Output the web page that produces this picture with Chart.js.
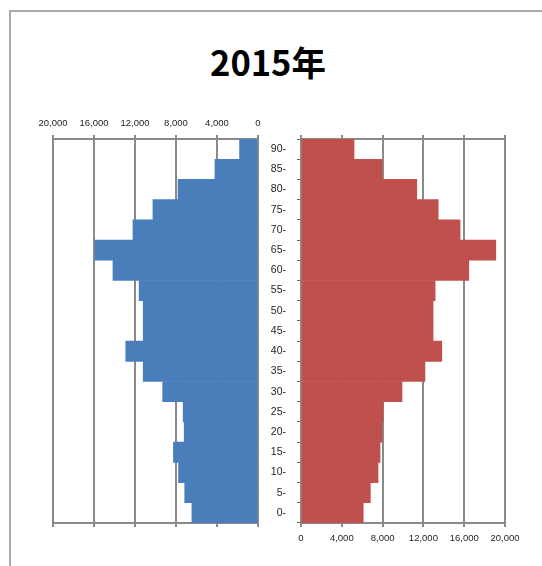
<!DOCTYPE html>
<html>
<head>
<meta charset="utf-8">
<script src="https://cdn.jsdelivr.net/npm/chart.js@4/dist/chart.umd.min.js"></script>
<style>
  html, body { margin: 0; padding: 0; background: #fff; overflow: hidden; }
  #wrap { position: relative; width: 542px; height: 566px; overflow: hidden; }
  /* outer chart frame: only its top and left edges fall inside the page */
  .edge { position: absolute; background: #a9a9a9; }
  #edgeTop { left: 9px; top: 10px; width: 533px; height: 2px; }
  #edgeLeft { left: 9px; top: 10px; width: 2px; height: 556px; }
  #title { position: absolute; left: 0; top: 39px; width: 536px; height: 44px;
           line-height: 44px; text-align: center; color: #000;
           font-family: 'Noto Sans CJK JP', sans-serif; font-weight: bold; font-size: 34.5px; }
  canvas { position: absolute; left: 0; top: 0; }
</style>
</head>
<body>
<div id="wrap">
  <div class="edge" id="edgeTop"></div>
  <div class="edge" id="edgeLeft"></div>
  <div id="title">2015年</div>
  <canvas id="male" width="542" height="566"></canvas>
  <canvas id="female" width="542" height="566"></canvas>
</div>
<script>
// Five-year age groups, youngest first (drawn bottom to top)
const ageGroups = ['0-', '5-', '10-', '15-', '20-', '25-', '30-', '35-', '40-', '45-',
                   '50-', '55-', '60-', '65-', '70-', '75-', '80-', '85-', '90-'];

// Population by age group
const maleCounts   = [6450, 7150, 7750, 8250, 7200, 7300, 9300, 11200, 12900, 11200,
                      11200, 11600, 14150, 15900, 12200, 10250, 7800, 4200, 1800];
const femaleCounts = [6100, 6800, 7550, 7750, 7950, 8050, 9900, 12150, 13800, 12950,
                      12950, 13150, 16450, 19100, 15600, 13450, 11350, 7950, 5200];

// Shared value axis
const axisMin = 0;
const axisMax = 20000;
const axisStep = 4000;

const gridColor = '#8a8a8a';
const labelColor = '#1e1e1e';
const tickFont = { family: "'Liberation Sans', Arial, sans-serif", size: 9.5 };
const ageFont = { family: "'Liberation Sans', Arial, sans-serif", size: 10.5 };
const fmt = v => Number(v).toLocaleString('en-US');

function valueAxis(position, showLabels, height, reverse) {
  return {
    type: 'linear',
    position: position,
    reverse: reverse,
    min: axisMin,
    max: axisMax,
    ticks: {
      display: showLabels,
      stepSize: axisStep,
      autoSkip: false,
      maxRotation: 0,
      color: labelColor,
      font: tickFont,
      padding: 6,
      callback: fmt
    },
    grid: {
      display: true,
      drawOnChartArea: showLabels,
      color: gridColor,
      lineWidth: 2,
      tickLength: 4,
      tickColor: gridColor,
      tickWidth: 2
    },
    border: { display: true, color: gridColor, width: 2 },
    afterFit: s => { s.height = height; }
  };
}

const barStyle = {
  borderWidth: 0,
  categoryPercentage: 1.0,
  barPercentage: 1.0
};

// Left half: male, value axis grows leftwards, labels on top
new Chart(document.getElementById('male'), {
  type: 'bar',
  data: {
    labels: ageGroups,
    datasets: [Object.assign({
      label: '男',
      data: maleCounts,
      backgroundColor: '#4a7ebb',
      xAxisID: 'x'
    }, barStyle)]
  },
  options: {
    indexAxis: 'y',
    responsive: false,
    animation: false,
    devicePixelRatio: 1,
    layout: { padding: { left: 53, right: 284, top: 0, bottom: 0 } },
    plugins: {
      legend: { display: false },
      tooltip: { enabled: false },
      title: { display: false }
    },
    scales: {
      x: valueAxis('top', true, 139, true),
      x2: valueAxis('bottom', false, 43, true),
      y: { display: false, reverse: true, grid: { display: false } }
    }
  }
});

// Right half: female, value axis grows rightwards, labels at bottom, age labels on its left
new Chart(document.getElementById('female'), {
  type: 'bar',
  data: {
    labels: ageGroups,
    datasets: [Object.assign({
      label: '女',
      data: femaleCounts,
      backgroundColor: '#c0504d',
      xAxisID: 'x'
    }, barStyle)]
  },
  options: {
    indexAxis: 'y',
    responsive: false,
    animation: false,
    devicePixelRatio: 1,
    layout: { padding: { left: 262, right: 37, top: 0, bottom: 0 } },
    plugins: {
      legend: { display: false },
      tooltip: { enabled: false },
      title: { display: false }
    },
    scales: {
      x: valueAxis('bottom', true, 43, false),
      x2: valueAxis('top', false, 139, false),
      y: {
        position: 'left',
        reverse: true,
        ticks: { color: labelColor, font: ageFont, padding: 11, autoSkip: false },
        grid: {
          display: true,
          drawOnChartArea: false,
          offset: true,
          tickLength: 4,
          tickColor: '#666',
          tickWidth: 1
        },
        border: { display: true, color: gridColor, width: 2 },
        afterFit: s => { s.width = 39; }
      }
    }
  }
});
</script>
</body>
</html>
